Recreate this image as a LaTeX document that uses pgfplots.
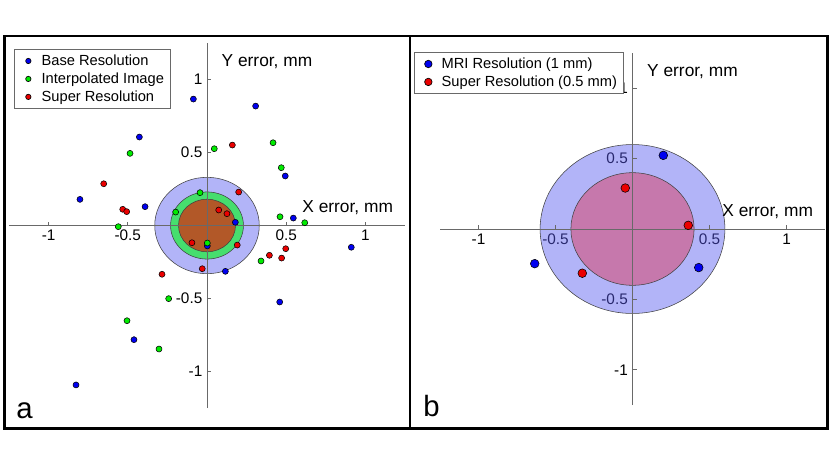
\documentclass[border=0pt]{standalone}
\usepackage{fontspec}
\setmainfont{Liberation Sans}
\usepackage{pgfplots}
\pgfplotsset{compat=1.18}

\definecolor{ptblue}{RGB}{0,0,240}
\definecolor{ptgreen}{RGB}{0,235,0}
\definecolor{ptred}{RGB}{235,0,0}
\definecolor{ringblue}{RGB}{178,180,248}
\definecolor{ringgreen}{RGB}{70,222,110}
\definecolor{ringbrown}{RGB}{178,88,40}
\definecolor{ringpink}{RGB}{198,120,172}
\definecolor{axgray}{RGB}{105,105,105}
\definecolor{labnavy}{RGB}{40,40,110}

\pgfplotsset{
  errstyle/.style={
    scale only axis,
    anchor=center,
    axis lines=middle,
    axis line style={-, axgray, line width=0.5pt},
    axis on top,
    xmin=-1.25, xmax=1.25, ymin=-1.25, ymax=1.25,
    xtick={-1,-0.5,0.5,1}, ytick={-1,-0.5,0.5,1},
    tick align=inside,
    major tick length=3pt,
    tick style={axgray, line width=0.5pt},
    tick label style={font=\fontsize{11.5}{13}\selectfont},
    /pgf/number format/assume math mode=true,
    xlabel={X error, mm}, ylabel={Y error, mm},
    label style={font=\fontsize{13}{15}\selectfont},
    xlabel style={at={(axis description cs:1,0.5)}, anchor=base east, xshift=-5.5pt, yshift=9.4pt},
    ylabel style={at={(axis description cs:0.5,1)}, anchor=base west, rotate=0, xshift=7.5pt, yshift=-17.5pt},
    legend cell align=left,
    legend style={font=\fontsize{11}{13}\selectfont, draw=axgray, line width=0.5pt,
      inner xsep=3pt, inner ysep=2pt},
  },
  dots/.style={only marks, mark=*, mark size=#1, mark options={draw=black, line width=0.35pt}},
  dotkey/.style={legend image code/.code={%
    \path[draw=none, fill=none] (-7.5pt,0) -- (8pt,0);
    \draw[##1, mark size=#1, every mark/.append style={draw=none}] plot coordinates {(0pt,0pt)};}},
}

% left panel: errors for three reconstructions (mm)
\pgfplotstableread{
x y
-0.086 0.866
-0.427 0.606
-0.802 0.179
-0.391 0.129
0.307 0.818
0.494 0.339
0.545 0.051
0.179 0.022
0.002 -0.140
0.116 -0.314
0.911 -0.149
0.459 -0.524
-0.461 -0.782
-0.827 -1.092
}\baseres
\pgfplotstableread{
x y
-0.486 0.494
-0.560 -0.008
-0.044 0.225
-0.198 0.092
0.046 0.526
0.417 0.567
0.469 0.396
0.461 0.060
0.617 0.019
0.002 -0.120
0.341 -0.243
-0.242 -0.501
-0.505 -0.652
-0.303 -0.846
}\interp
\pgfplotstableread{
x y
-0.652 0.286
-0.532 0.111
-0.507 0.095
0.160 0.551
0.200 0.229
0.074 0.106
0.126 0.081
-0.095 -0.118
0.191 -0.134
0.394 -0.204
-0.030 -0.296
-0.284 -0.334
0.497 -0.159
0.471 -0.223
}\superres
% right panel
\pgfplotstableread{
x y
0.200 0.523
-0.635 -0.246
0.430 -0.274
}\mrires
\pgfplotstableread{
x y
-0.047 0.291
0.362 0.026
-0.326 -0.314
}\superhalf

\begin{document}
\begin{tikzpicture}
\begin{scope}[x=0.75pt, y=-0.75pt]
  \path (0,0) rectangle (830,467);
\end{scope}

\begin{axis}[errstyle, dotkey=2pt, at={(155.25pt,-169.125pt)}, width=297pt, height=273.75pt,
  legend style={at={(0,1)}, anchor=north west, xshift=3.75pt, yshift=-4.5pt}]
  \fill[ringblue, draw=black!75, line width=0.4pt] (axis cs:0,0) circle[radius=0.33];
  \fill[ringgreen, draw=black!75, line width=0.4pt] (axis cs:0,0) circle[radius=0.23];
  \fill[ringbrown, draw=black!75, line width=0.4pt] (axis cs:0,0) circle[radius=0.18];
  \addplot[dots=2.25pt, mark options={fill=ptblue}] table {\baseres};
  \addplot[dots=2.25pt, mark options={fill=ptgreen}] table {\interp};
  \addplot[dots=2.25pt, mark options={fill=ptred}] table {\superres};
  \legend{Base Resolution, Interpolated Image, Super Resolution}
\end{axis}

\begin{axis}[errstyle, dotkey=2.8pt, at={(474.375pt,-171.75pt)}, width=288.75pt, height=264pt,
  xticklabels={-1,\textcolor{labnavy}{-0.5},\textcolor{labnavy}{0.5},1},
  yticklabels={-1,\textcolor{labnavy}{-0.5},\textcolor{labnavy}{0.5},1},
  legend style={at={(0,1)}, anchor=north west, xshift=-19.5pt, yshift=0.75pt}]
  \fill[ringblue, draw=black!75, line width=0.4pt] (axis cs:0,0) circle[radius=0.6];
  \fill[ringpink, draw=black!75, line width=0.4pt] (axis cs:0,0) circle[radius=0.4];
  \addplot[dots=3.25pt, mark options={fill=ptblue}] table {\mrires};
  \addplot[dots=3.25pt, mark options={fill=ptred}] table {\superhalf};
  \legend{MRI Resolution (1 mm), Super Resolution (0.5 mm)}
\end{axis}

\begin{scope}[x=0.75pt, y=-0.75pt]
  \draw[line width=2.2pt] (4.3,36) rectangle (410,428.3);
  \draw[line width=2.2pt] (410,36) rectangle (827.3,428.3);
  \node[anchor=base west, inner sep=0pt, font=\fontsize{22}{26}\selectfont] at (16,418) {a};
  \node[anchor=base west, inner sep=0pt, font=\fontsize{22}{26}\selectfont] at (423,416.7) {b};
\end{scope}
\end{tikzpicture}
\end{document}
